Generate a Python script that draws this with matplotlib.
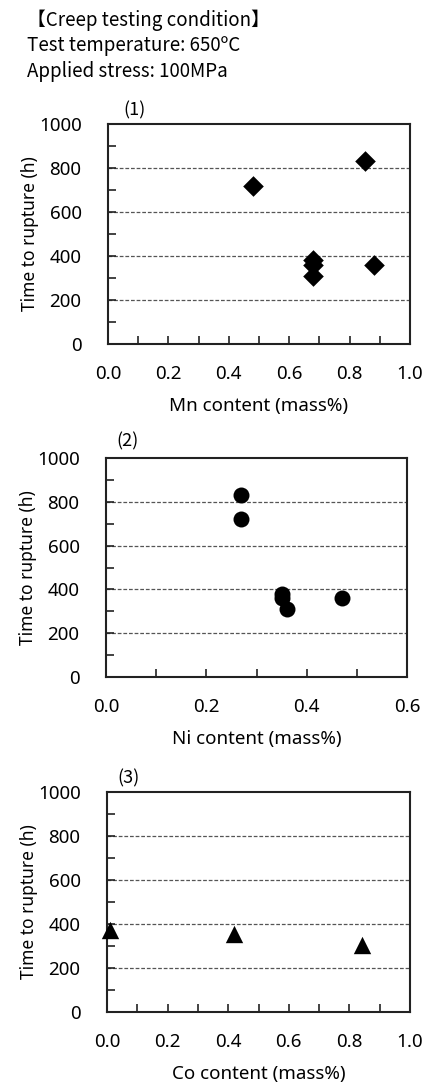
import matplotlib
matplotlib.use("Agg")
import matplotlib.pyplot as plt
from matplotlib.ticker import MultipleLocator

# Data
rupture_time = [720, 830, 380, 360, 310, 360]
mn_content = [0.48, 0.85, 0.68, 0.68, 0.68, 0.88]
ni_content = [0.27, 0.27, 0.35, 0.35, 0.36, 0.47]
co_content = [0.01, 0.42, 0.84]
co_rupture = [375, 355, 305]

title_lines = ["【Creep testing condition】", "Test temperature: 650ºC", "Applied stress: 100MPa"]

W, H = 427, 1085
fig = plt.figure(figsize=(W / 100, H / 100), dpi=100)

font_cjk = ["Noto Sans CJK JP", "DejaVu Sans"]
font_ax = ["Noto Sans", "DejaVu Sans"]

def axes_px(l, r, t, b):
    return fig.add_axes([l / W, 1 - b / H, (r - l) / W, (b - t) / H])

panels = [
    dict(box=(108, 410, 124, 344), x=mn_content, y=rupture_time, xmax=1.0, marker="D", ms=10.5,
         xlabel="Mn content (mass%)", tag="(1)", tagpos=(123, 110)),
    dict(box=(106, 407, 458, 677), x=ni_content, y=rupture_time, xmax=0.6, marker="o", ms=11.5,
         xlabel="Ni content (mass%)", tag="(2)", tagpos=(116, 441)),
    dict(box=(107, 410, 792, 1012), x=co_content, y=co_rupture, xmax=1.0, marker="^", ms=12.5,
         xlabel="Co content (mass%)", tag="(3)", tagpos=(117, 778)),
]

for p in panels:
    ax = axes_px(*p["box"])
    ax.set_xlim(0, p["xmax"])
    ax.set_ylim(0, 1000)
    ax.yaxis.set_major_locator(MultipleLocator(200))
    ax.yaxis.set_minor_locator(MultipleLocator(100))
    ax.xaxis.set_major_locator(MultipleLocator(0.2))
    ax.xaxis.set_minor_locator(MultipleLocator(0.1))
    ax.set_xticklabels([f"{v:.1f}" for v in ax.get_xticks()])
    ax.tick_params(which="both", direction="in", length=6, width=1.2, colors="#222222",
                   labelsize=13.5, labelcolor="black", top=False, right=False)
    ax.tick_params(axis="x", which="both", pad=15)
    ax.tick_params(axis="y", which="both", pad=19)
    for lab in ax.get_xticklabels() + ax.get_yticklabels():
        lab.set_family(font_ax)
    for gy in (200, 400, 600, 800):
        ax.axhline(gy, color="#555555", linestyle=(0, (3, 1.5)), linewidth=0.9, zorder=1)
    for s in ax.spines.values():
        s.set_linewidth(1.5)
        s.set_color("#222222")
    ax.scatter(p["x"], p["y"], marker=p["marker"], s=p["ms"] ** 2, color="black",
               zorder=3, clip_on=False, linewidths=0)
    ax.set_ylabel("Time to rupture (h)", fontsize=12.5, family=font_ax, labelpad=0)
    ax.set_xlabel(p["xlabel"], fontsize=13.5, family=font_ax, labelpad=10)
    fig.text(p["tagpos"][0] / W, 1 - p["tagpos"][1] / H, p["tag"], fontsize=13,
             family=font_cjk, va="center", ha="left")

for i, line in enumerate(title_lines):
    fig.text(27 / W, 1 - (20 + 26 * i) / H, line, fontsize=13.5, family=font_cjk,
             va="center", ha="left")

fig.savefig("out.png", dpi=100)
